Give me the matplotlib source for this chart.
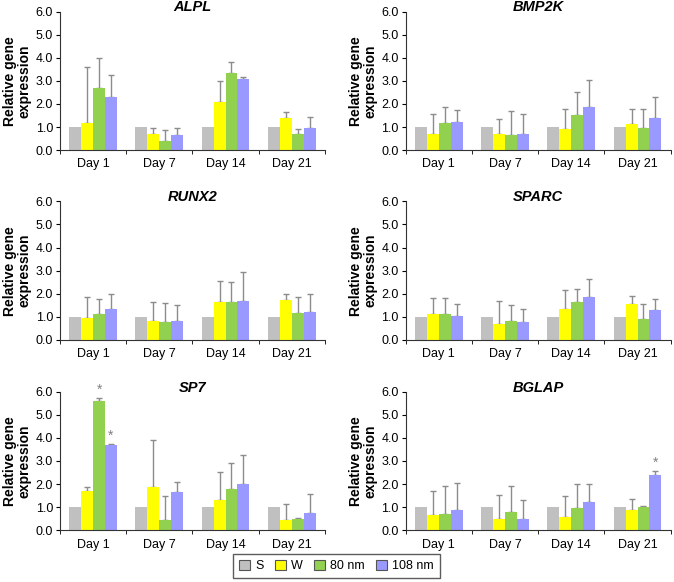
"""
Relative gene expression of osteogenic markers, S / W / 80 nm / 108 nm,
days 1-21. Six panels, bars with upper error whiskers only.
"""
import numpy as np
import matplotlib.pyplot as plt

plt.rcParams["font.family"] = ["Liberation Sans", "DejaVu Sans"]

DAYS = ["Day 1", "Day 7", "Day 14", "Day 21"]
GROUPS = ["S", "W", "80 nm", "108 nm"]
COLORS = ["#c0c0c0", "#ffff00", "#92d050", "#9999ff"]

# mean per gene: rows = group (S, W, 80 nm, 108 nm), cols = day
ALPL_MEAN = [[1.0, 1.0, 1.0, 1.0],
             [1.19, 0.72, 2.10, 1.38],
             [2.68, 0.41, 3.36, 0.72],
             [2.29, 0.64, 3.09, 0.96]]
ALPL_TOP = [[None] * 4,
            [3.62, 0.98, 3.00, 1.67],
            [3.98, 0.87, 3.81, 0.90],
            [3.26, 0.94, 3.19, 1.42]]

BMP2K_MEAN = [[1.0, 1.0, 1.0, 1.0],
              [0.72, 0.70, 0.93, 1.13],
              [1.17, 0.64, 1.54, 0.97],
              [1.22, 0.70, 1.88, 1.38]]
BMP2K_TOP = [[None] * 4,
             [1.57, 1.33, 1.77, 1.77],
             [1.86, 1.70, 2.52, 1.77],
             [1.74, 1.55, 3.06, 2.32]]

RUNX2_MEAN = [[1.0, 1.0, 1.0, 1.0],
              [0.94, 0.83, 1.65, 1.73],
              [1.12, 0.76, 1.65, 1.15],
              [1.32, 0.82, 1.68, 1.22]]
RUNX2_TOP = [[None] * 4,
             [1.87, 1.63, 2.55, 1.97],
             [1.76, 1.61, 2.52, 1.84],
             [1.99, 1.50, 2.95, 1.99]]

SPARC_MEAN = [[1.0, 1.0, 1.0, 1.0],
              [1.11, 0.69, 1.35, 1.55],
              [1.11, 0.83, 1.65, 0.89],
              [1.04, 0.76, 1.84, 1.29]]
SPARC_TOP = [[None] * 4,
             [1.80, 1.70, 2.16, 1.91],
             [1.80, 1.51, 2.19, 1.55],
             [1.55, 1.32, 2.62, 1.76]]

SP7_MEAN = [[1.0, 1.0, 1.0, 1.0],
            [1.70, 1.87, 1.32, 0.43],
            [5.61, 0.43, 1.80, 0.50],
            [3.68, 1.64, 2.01, 0.76]]
SP7_TOP = [[None] * 4,
           [1.87, 3.91, 2.53, 1.12],
           [5.73, 1.47, 2.89, 0.55],
           [3.74, 2.10, 3.25, 1.57]]

BGLAP_MEAN = [[1.0, 1.0, 1.0, 1.0],
              [0.65, 0.50, 0.56, 0.86],
              [0.69, 0.79, 0.96, 1.01],
              [0.86, 0.50, 1.22, 2.40]]
BGLAP_TOP = [[None] * 4,
             [1.70, 1.51, 1.50, 1.35],
             [1.91, 1.91, 2.01, 1.04],
             [2.06, 1.32, 2.01, 2.58]]

# (group index, day index) carrying a significance star
SP7_STARS = [(2, 0), (3, 0)]
BGLAP_STARS = [(3, 3)]

PANELS = [
    ("ALPL",  ALPL_MEAN,  ALPL_TOP,  []),
    ("BMP2K", BMP2K_MEAN, BMP2K_TOP, []),
    ("RUNX2", RUNX2_MEAN, RUNX2_TOP, []),
    ("SPARC", SPARC_MEAN, SPARC_TOP, []),
    ("SP7",   SP7_MEAN,   SP7_TOP,   SP7_STARS),
    ("BGLAP", BGLAP_MEAN, BGLAP_TOP, BGLAP_STARS),
]

# axes boxes in figure fractions (left, bottom, width, height)
LEFTS = [0.089, 0.602]
BOTTOMS = [0.742, 0.416, 0.089]
W_AX, H_AX = 0.393, 0.238

BAR_W = 0.18


def draw_panel(ax, title, mean, top, stars):
    x = np.arange(len(DAYS))
    for g in range(len(GROUPS)):
        xs = x + (g - 1.5) * BAR_W
        ax.bar(xs, mean[g], width=BAR_W, color=COLORS[g], zorder=2)
        for d in range(len(DAYS)):
            if top[g][d] is None:
                continue
            err = top[g][d] - mean[g][d]
            ax.errorbar(xs[d], mean[g][d], yerr=[[0], [err]], fmt="none",
                        ecolor="#8c8c8c", elinewidth=1.0, capsize=2.2,
                        capthick=1.0, zorder=1)
    for g, d in stars:
        xs = d + (g - 1.5) * BAR_W
        ax.text(xs, top[g][d] + 0.05, "*", ha="center", va="bottom",
                fontsize=10, color="#808080")

    ax.set_xlim(-0.5, 3.5)
    ax.set_ylim(0, 6.0)
    ax.set_yticks(np.arange(0, 6.01, 1.0))
    ax.set_yticklabels([f"{v:.1f}" for v in np.arange(0, 6.01, 1.0)],
                       fontsize=9)
    ax.set_xticks(x)
    ax.set_xticklabels(DAYS, fontsize=9)
    ax.set_xticks([-0.5, 0.5, 1.5, 2.5, 3.5], minor=True)
    ax.tick_params(axis="x", which="major", length=0, pad=6)
    ax.tick_params(axis="x", which="minor", length=3, direction="out")
    ax.tick_params(axis="y", length=3, direction="out", pad=2)
    for s in ["top", "right"]:
        ax.spines[s].set_visible(False)
    ax.spines["left"].set_color("#333333")
    ax.spines["bottom"].set_color("#333333")
    ax.text(0.5, 1.03, title, transform=ax.transAxes, ha="center",
            va="center", fontsize=10.5, fontweight="bold", style="italic")
    ax.set_ylabel("Relative gene\nexpression", fontsize=10,
                  fontweight="bold", labelpad=3, linespacing=1.0)


fig = plt.figure(figsize=(6.74, 5.82), dpi=100)
for i, (name, mean, top, stars) in enumerate(PANELS):
    row, col = divmod(i, 2)
    ax = fig.add_axes([LEFTS[col], BOTTOMS[row], W_AX, H_AX])
    draw_panel(ax, name, mean, top, stars)

handles = [plt.Rectangle((0, 0), 1, 1, facecolor=c, edgecolor="#555555",
                         lw=0.8) for c in COLORS]
fig.legend(handles, GROUPS, loc="center", bbox_to_anchor=(0.499, 0.0275),
           ncol=4, fontsize=9, frameon=True, fancybox=False,
           edgecolor="#333333", handlelength=0.9, handleheight=0.9,
           handletextpad=0.4, columnspacing=0.9, borderpad=0.45)

fig.savefig("out.png", dpi=100)
